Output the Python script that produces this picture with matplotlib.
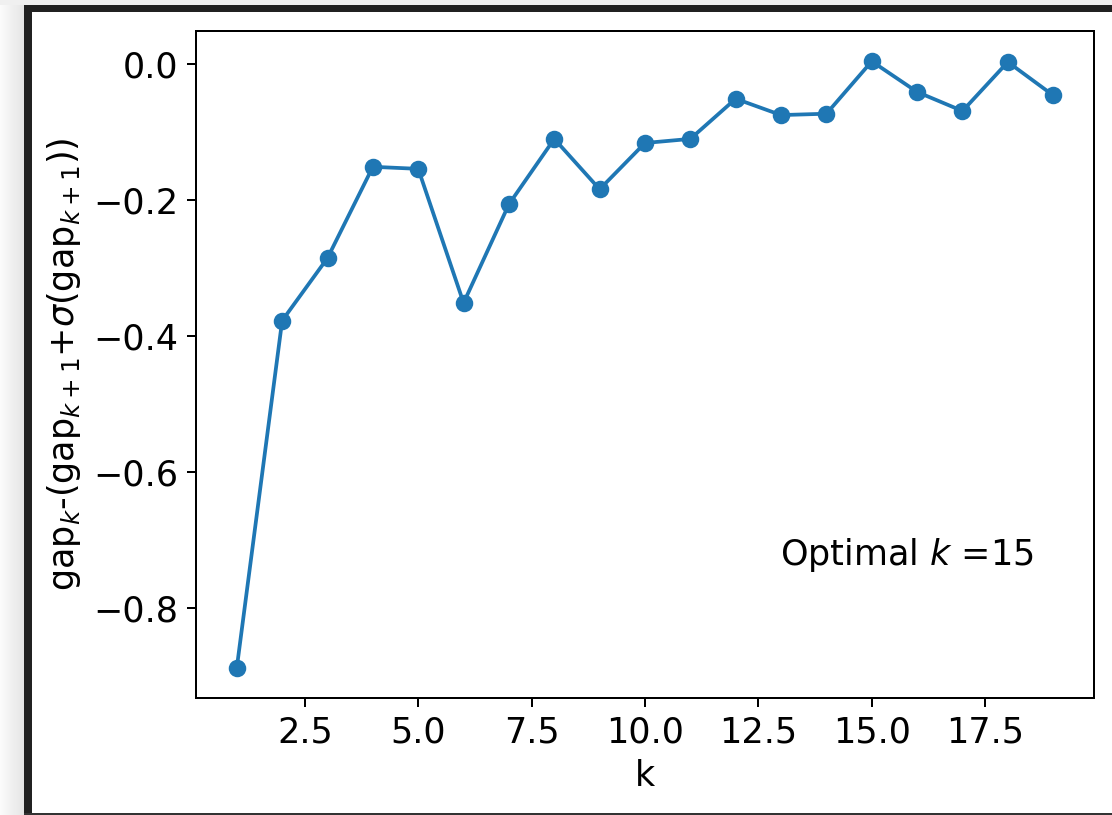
import numpy as np
import matplotlib
matplotlib.use("Agg")
import matplotlib.pyplot as plt

# Gap-statistic criterion per number of clusters k
k_values = [1, 2, 3, 4, 5, 6, 7, 8, 9, 10, 11, 12, 13, 14, 15, 16, 17, 18, 19]
gap_diff = [-0.887, -0.377, -0.285, -0.151, -0.154, -0.351, -0.206, -0.110,
            -0.184, -0.116, -0.110, -0.051, -0.075, -0.073, 0.004, -0.041,
            -0.069, 0.003, -0.046]
optimal_k = 15

DPI = 180
W, H = 1112, 815
plt.rcParams["font.size"] = 14

fig = plt.figure(figsize=(W / DPI, H / DPI), dpi=DPI)

# Window-style frame around the plot
bg = np.ones((H, W, 3))
bg[:5, :, :] = 0.945
shade = np.linspace(0.985, 0.90, 24)
bg[5:, :24, :] = shade[None, :, None]
bg[5:12, 24:, :] = 0.13
bg[5:, 24:32, :] = 0.13
bg[H - 2:, 24:, :] = 0.2
fig.figimage(bg, xo=0, yo=0, origin="upper", zorder=-10)

ax = fig.add_axes([196 / W, 1 - 698 / H, (1094 - 196) / W, (698 - 31) / H])
ax.set_zorder(5)
ax.set_facecolor("white")
ax.plot(k_values, gap_diff, "o-", color="#1f77b4")
ax.set_xlabel("k")
ax.set_ylabel(r"gap$_k$-(gap$_{k+1}$+$\sigma$(gap$_{k+1}$))")
ax.text(0.65, 0.2, r"Optimal $k$ =" + str(optimal_k), transform=ax.transAxes)

fig.savefig("out.png", dpi=DPI)
